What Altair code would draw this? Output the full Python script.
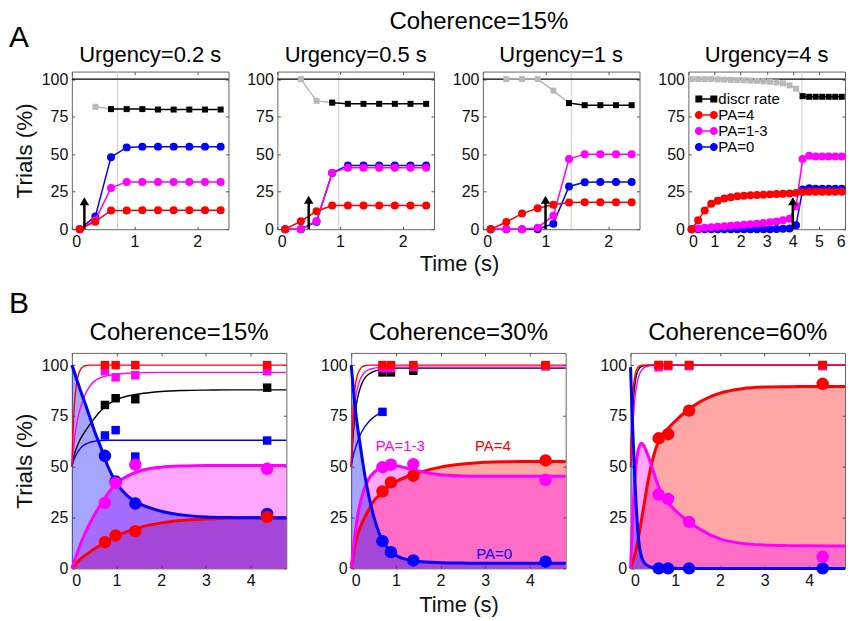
import altair as alt
import pandas as pd

FONT = "Liberation Sans"
RED, MAG, BLUE, BLACK, GRAY = "#ff0000", "#ff00ff", "#0000ff", "#000000", "#b9b9b9"
TICK = "#555555"

# ---------------- Panel A (Coherence = 15%) ----------------
main_title = "Coherence=15%"
urgency = [0.2, 0.5, 1, 4]
urgency_titles = ["Urgency=0.2 s", "Urgency=0.5 s", "Urgency=1 s", "Urgency=4 s"]
decision_time = [0.73, 0.98, 1.41, 4.35]
arrow_top = [22, 23, 23, 22]
a_xmax = [2.5, 2.5, 2.5, 6]
a_xticks = [[0, 1, 2], [0, 1, 2], [0, 1, 2], [0, 1, 2, 3, 4, 5, 6]]
y_ticks = [0, 25, 50, 75, 100]

t_short = [0.125, 0.375, 0.625, 0.875, 1.125, 1.375, 1.625, 1.875, 2.125, 2.375]
t_long = [0.125, 0.375, 0.625, 0.875, 1.125, 1.375, 1.625, 1.875, 2.125, 2.375,
          2.625, 2.875, 3.125, 3.375, 3.625, 3.875, 4.125, 4.375, 4.625, 4.875,
          5.125, 5.375, 5.625, 5.875]

a1_discr = [None, 81.5, 80, 80, 80, 79.7, 79.7, 79.7, 79.7, 79.7]
a1_pa4 = [0, 5, 12.5, 12.5, 12.7, 12.7, 12.7, 12.7, 12.7, 12.7]
a1_pa13 = [0, 6, 27.5, 31.5, 31.5, 31.5, 31.5, 31.5, 31.5, 31.5]
a1_pa0 = [0, 8.5, 48, 54.5, 55, 55, 55, 55, 55, 55]

a2_discr = [None, 100, 85.5, 84.3, 83.5, 83.5, 83.5, 83.5, 83.5, 83.5]
a2_pa4 = [0, 5.3, 12, 15.8, 15.8, 15.8, 15.8, 15.8, 15.8, 15.8]
a2_pa13 = [0, 0, 5.5, 37.5, 41, 41, 41, 41, 41, 41]
a2_pa0 = [0, 0, 5, 37.5, 42.5, 42.5, 42.5, 42.5, 42.5, 42.5]

a3_discr = [None, 100, 100, 100, 92.3, 84, 82.6, 82.6, 82.6, 82.6]
a3_pa4 = [0, 4.8, 10.4, 14, 16.3, 17.8, 18, 18, 18, 18]
a3_pa13 = [0, 0, 0, 1, 9, 46.7, 50, 50, 50, 50]
a3_pa0 = [0, 0, 0, 0, 3.7, 28.5, 31.3, 31.5, 31.5, 31.5]

a4_discr = [100, 100, 100, 100, 99.8, 99.6, 99.5, 99.3, 99.2, 99, 98.8, 98.5,
            98.2, 97.8, 97.2, 95.8, 93.6, 88.6, 88.2, 88.2, 88.2, 88.2, 88.2, 88.2]
a4_pa4 = [0, 6, 12.5, 17, 19, 20.5, 21.3, 22, 22.3, 22.6, 22.8, 23,
          23.2, 23.4, 23.6, 23.8, 24.2, 24.7, 25, 25, 25, 25, 25, 25]
a4_pa13 = [0, 0.5, 1, 1.3, 1.7, 2, 2.3, 2.6, 3, 3.3, 3.7, 4.1,
           4.6, 5.2, 6, 7, 15.4, 46.7, 49, 48.5, 48.5, 48.5, 48.5, 48.5]
a4_pa0 = [0, 0, 0, 0, 0, 0, 0, 0, 0, 0, 0, 0,
          0, 0.2, 0.3, 0.5, 2.6, 26.4, 27.3, 27, 27, 27, 27, 27]

a_time = [t_short, t_short, t_short, t_long]
a_discr = [a1_discr, a2_discr, a3_discr, a4_discr]
a_pa4 = [a1_pa4, a2_pa4, a3_pa4, a4_pa4]
a_pa13 = [a1_pa13, a2_pa13, a3_pa13, a4_pa13]
a_pa0 = [a1_pa0, a2_pa0, a3_pa0, a4_pa0]

legend_names = ["discr rate", "PA=4", "PA=1-3", "PA=0"]

# ---------------- Panel B ----------------
b_titles = ["Coherence=15%", "Coherence=30%", "Coherence=60%"]
b_xticks = [0, 1, 2, 3, 4]
b_rt = [[0.74, 0.98, 1.42, 4.37], [0.7, 0.89, 1.39, 4.35], [0.63, 0.84, 1.31, 4.3]]
b_sq_pa4 = [[100, 100, 100, 100], [100, 100, 100, 100], [100, 100, 100, 100]]
b_sq_pa13 = [[97, 94, 95, 97], [98.5, 98.5, 99, 99.5], [98.9, 99.5, 99.5, 99.5]]
b_sq_discr = [[80.4, 83.7, 83.2, 88.9], [96.4, 96.4, 97.2, 99.5], [100, 100, 100, 100]]
b_sq_pa0 = [[65.4, 68, 55, 62.9], [77, None, None, None], [None, None, None, None]]
b_c_pa4 = [[12.9, 16.2, 18.3, 25.3], [37.9, 42.3, 45.6, 53.1], [64, 66, 77.6, 90.8]]
b_c_pa13 = [[32.2, 42, 51, 49], [49.8, 51, 51.3, 43.6], [36.3, 34.2, 22.9, 5.7]]
b_c_pa0 = [[55.4, 42.8, 31.9, 26.8], [13.4, 8, 3.9, 3.3], [0, 0, 0, 0]]

t_fit = [0, 0.05, 0.1, 0.15, 0.2, 0.25, 0.3, 0.4, 0.5, 0.65, 0.8, 1.0, 1.25, 1.5,
         2.0, 2.5, 3.0, 3.5, 4.0, 4.8]
fit_pa0 = [
    [100, 97, 93.5, 90.3, 87, 84, 81, 74.5, 68, 59.5, 50.5, 42, 35.5, 32, 28.1, 26.2, 25.3, 25, 24.9, 24.8],
    [100, 88, 77, 68.5, 61, 53.5, 46.5, 35, 26, 16, 10.5, 6.5, 4.3, 3.4, 2.8, 2.6, 2.5, 2.5, 2.5, 2.5],
    [99, 68, 42, 23, 10.5, 5.5, 3, 1.2, 0.4, 0, 0, 0, 0, 0, 0, 0, 0, 0, 0, 0],
]
fit_pa13 = [
    [0, 3.2, 6.3, 9.4, 12.3, 15, 17.5, 22, 26.2, 31.5, 36.5, 41.8, 45.5, 47.8, 49.8, 50.4, 50.6, 50.6, 50.6, 50.6],
    [0, 10, 19.5, 26.5, 32, 36.2, 39.5, 44.3, 47, 49.3, 50.3, 50.4, 49.3, 47.9, 46.1, 45.5, 45.3, 45.3, 45.3, 45.3],
    [0, 26, 45, 55.5, 60.2, 61.5, 60.3, 55, 48.5, 39, 33.5, 28.5, 24, 20, 14.5, 12.3, 11.5, 11.2, 11.1, 11],
]
fit_pa4 = [
    [0, 1.3, 2.5, 3.7, 4.8, 5.7, 6.5, 8, 9.5, 11.5, 13.5, 16, 18.2, 20, 22.4, 23.7, 24.3, 24.7, 24.9, 25],
    [0, 7, 13, 17, 20, 22.7, 25, 29.2, 33, 36.5, 39.7, 42.6, 45.2, 47.1, 49.8, 51.3, 52.2, 52.5, 52.6, 52.6],
    [0, 3.5, 7, 12, 18, 24.5, 31, 44, 54, 63.5, 67.8, 72.5, 77.3, 81.2, 86.2, 88.4, 89.2, 89.4, 89.5, 89.5],
]
acc_pa4 = [
    [50, 78, 90, 95.5, 98, 99.2, 99.7, 100, 100, 100, 100, 100, 100, 100, 100, 100, 100, 100, 100, 100],
    [50, 80, 91, 95.8, 98, 99.2, 99.7, 100, 100, 100, 100, 100, 100, 100, 100, 100, 100, 100, 100, 100],
    [50, 84, 95, 98.5, 99.5, 100, 100, 100, 100, 100, 100, 100, 100, 100, 100, 100, 100, 100, 100, 100],
]
acc_pa13 = [
    [50, 62, 70, 75.5, 79.5, 82.7, 85.5, 89.5, 92, 93.8, 94.8, 95.5, 96, 96.2, 96.4, 96.4, 96.4, 96.4, 96.4, 96.4],
    [50, 74, 84, 89.5, 93, 95, 96.5, 97.8, 98.4, 98.8, 99, 99, 99, 99, 99, 99, 99, 99, 99, 99],
    [50, 70, 84, 91.5, 95.5, 97.5, 98.6, 99.5, 99.8, 100, 100, 100, 100, 100, 100, 100, 100, 100, 100, 100],
]
acc_discr = [
    [50, 55.5, 59, 61.7, 64, 65.8, 67.5, 70.7, 73.7, 77.5, 80.5, 83, 84.8, 85.8, 87, 87.5, 87.7, 87.8, 87.8, 87.8],
    [50, 67, 78, 84.5, 88.5, 91.5, 93.5, 95.6, 96.8, 97.8, 98.3, 98.5, 98.5, 98.5, 98.5, 98.5, 98.5, 98.5, 98.5, 98.5],
    [50, 78, 91, 96.5, 98.5, 99.3, 99.7, 100, 100, 100, 100, 100, 100, 100, 100, 100, 100, 100, 100, 100],
]
acc_pa0 = [
    [50, 53.5, 56, 57.8, 59.3, 60.3, 61, 62, 62.5, 62.9, 63, 63, 63, 63, 63, 63, 63, 63, 63, 63],
    [50, 56, 59.5, 62.8, 65.5, 67.7, 69.5, 72.3, 74.3, 76.5, None, None, None, None, None, None, None, None, None, None],
    [None] * 20,
]
b2_labels = ["PA=1-3", "PA=4", "PA=0"]
b2_label_t = [1.1, 3.17, 3.2]
b2_label_v = [60, 60, 7]
b2_label_colors = [MAG, RED, BLUE]

# ---------------- helpers ----------------
def text_layer(s, x, y, size, color=BLACK, align="center", baseline="alphabetic"):
    return alt.Chart(alt.Data(values=[{"s": s}])).mark_text(
        align=align, baseline=baseline, fontSize=size, font=FONT, color=color
    ).encode(x=alt.value(x), y=alt.value(y), text="s:N")


def main_axis(values, **extra):
    # labelled axis, pulled 3px inside the frame so that its ticks point inward
    return alt.Axis(values=values, offset=-3, ticks=True, tickSize=3, tickColor=TICK,
                    tickWidth=1, labelPadding=4, **extra)


def mirror_axis(values, orient):
    return alt.Axis(values=values, orient=orient, offset=-3, ticks=True, tickSize=3,
                    tickColor=TICK, tickWidth=1, labels=False, domain=False, title=None)


SQ_PATH = ("M-0.9,-0.7 H0.5 V0.7 H-0.9 Z M2.1,-0.7 H3.5 V0.7 H2.1 Z "
           "M0.5,-0.15 H2.1 V0.15 H0.5 Z")
CI_PATH = ("M-1,0 A0.8,0.8 0 1,1 0.6,0 A0.8,0.8 0 1,1 -1,0 Z "
           "M2,0 A0.8,0.8 0 1,1 3.6,0 A0.8,0.8 0 1,1 2,0 Z "
           "M0.6,-0.15 H2 V0.15 H0.6 Z")

AW, AH = 157, 158
BW, BH = 215, 216


def make_encoders(xs, ys, xaxis, yaxis, xmirror, ymirror):
    def X(f, mirror=False):
        return alt.X(f"{f}:Q", scale=xs, axis=xmirror if mirror else xaxis)

    def Y(f, mirror=False):
        return alt.Y(f"{f}:Q", scale=ys, axis=ymirror if mirror else yaxis)
    return X, Y


def with_mirror(layers, df, xf, yf, X, Y, w, h):
    inner = alt.layer(*layers)
    ticks_only = alt.Chart(df).mark_point(opacity=0).encode(x=X(xf, True), y=Y(yf, True))
    return alt.layer(inner, ticks_only).resolve_axis(x="independent", y="independent").properties(
        width=w, height=h)


def a_panel(i):
    xs = alt.Scale(domain=[0, a_xmax[i]], nice=False, zero=False)
    ys = alt.Scale(domain=[0, 105], nice=False)
    if i == 1:
        xaxis = main_axis(a_xticks[i], title="Time (s)", titleX=182, titlePadding=4)
    else:
        xaxis = main_axis(a_xticks[i], title=None)
    if i == 0:
        yaxis = main_axis(y_ticks, title="Trials (%)", titlePadding=5, titleFontSize=22.5)
    else:
        yaxis = main_axis(y_ticks, title=None)
    X, Y = make_encoders(xs, ys, xaxis, yaxis, mirror_axis(a_xticks[i], "top"),
                         mirror_axis(y_ticks, "right"))

    t = a_time[i]
    df = pd.DataFrame({"t": t, "discr": a_discr[i], "pa4": a_pa4[i],
                       "pa13": a_pa13[i], "pa0": a_pa0[i]})
    dt = decision_time[i]
    black = df[df["t"] > dt - 0.125]
    first_black = black["t"].min()
    gray = df[(df["t"] <= first_black) & df["discr"].notna()]

    layers = [
        alt.Chart(pd.DataFrame({"d": [dt]})).mark_rule(color="#cccccc", strokeWidth=1).encode(x=X("d")),
        alt.Chart(pd.DataFrame({"v": [100]})).mark_rule(color=BLACK, strokeWidth=1.2).encode(y=Y("v")),
        alt.Chart(gray).mark_line(color=GRAY, strokeWidth=1.5).encode(x=X("t"), y=Y("discr")),
        alt.Chart(gray).mark_square(color=GRAY, size=36, opacity=1).encode(x=X("t"), y=Y("discr")),
        alt.Chart(black).mark_line(color=BLACK, strokeWidth=1.5).encode(x=X("t"), y=Y("discr")),
        alt.Chart(black).mark_square(color=BLACK, size=36, opacity=1).encode(x=X("t"), y=Y("discr")),
    ]
    for col, color in [("pa0", BLUE), ("pa13", MAG), ("pa4", RED)]:
        layers.append(alt.Chart(df).mark_line(color=color, strokeWidth=1.5).encode(x=X("t"), y=Y(col)))
        layers.append(alt.Chart(df).mark_circle(color=color, size=64, opacity=1).encode(x=X("t"), y=Y(col)))
    arrow = pd.DataFrame({"u": [urgency[i]], "y0": [0], "y1": [arrow_top[i] - 4.5],
                          "tip": [arrow_top[i] - 3.4]})
    layers.append(alt.Chart(arrow).mark_rule(color=BLACK, strokeWidth=2.5).encode(
        x=X("u"), y=Y("y0"), y2="y1:Q"))
    layers.append(alt.Chart(arrow).mark_point(shape="triangle-up", filled=True, size=90,
                                              color=BLACK, opacity=1).encode(x=X("u"), y=Y("tip")))
    layers.append(text_layer(urgency_titles[i], AW / 2, -10, 22))
    if i == 0:
        layers.append(text_layer("A", -63, -25, 30, align="left"))
        layers.append(text_layer(main_title, 408, -43, 24))
    if i == 3:
        leg = alt.Legend(orient="none", legendX=4, legendY=20, title=None, labelFont=FONT,
                         labelFontSize=15, labelColor=BLACK, symbolSize=100, symbolOpacity=1,
                         symbolStrokeWidth=0, labelOffset=11, padding=0)
        layers.append(alt.Chart(pd.DataFrame({"name": legend_names})).mark_point(
            filled=True, opacity=0, size=100).encode(
            color=alt.Color("name:N", scale=alt.Scale(domain=legend_names, range=[BLACK, RED, MAG, BLUE]), legend=leg),
            shape=alt.Shape("name:N", scale=alt.Scale(domain=legend_names, range=[SQ_PATH, CI_PATH, CI_PATH, CI_PATH]), legend=leg),
        ))
    return with_mirror(layers, df, "t", "pa4", X, Y, AW, AH)


def b_panel(i):
    xs = alt.Scale(domain=[0, 4.8], nice=False, zero=False)
    ys = alt.Scale(domain=[0, 106], nice=False)
    if i == 1:
        xaxis = main_axis(b_xticks, title="Time (s)", titlePadding=6)
    else:
        xaxis = main_axis(b_xticks, title=None)
    if i == 0:
        yaxis = main_axis(y_ticks, title="Trials (%)", titlePadding=5, titleFontSize=22.5)
    else:
        yaxis = main_axis(y_ticks, title=None)
    X, Y = make_encoders(xs, ys, xaxis, yaxis, mirror_axis(b_xticks, "top"),
                         mirror_axis(y_ticks, "right"))

    fits = pd.DataFrame({"t": t_fit, "f0": fit_pa0[i], "f13": fit_pa13[i], "f4": fit_pa4[i],
                         "a4": acc_pa4[i], "a13": acc_pa13[i], "ad": acc_discr[i],
                         "a0": acc_pa0[i]})
    pts = pd.DataFrame({"t": b_rt[i], "s4": b_sq_pa4[i], "s13": b_sq_pa13[i], "sd": b_sq_discr[i],
                        "s0": b_sq_pa0[i], "c4": b_c_pa4[i], "c13": b_c_pa13[i], "c0": b_c_pa0[i]})
    layers = []
    for col, color in [("f4", RED), ("f13", MAG), ("f0", BLUE)]:
        layers.append(alt.Chart(fits).mark_area(color=color, opacity=0.35, interpolate="monotone").encode(
            x=X("t"), y=Y(col)))
    for col, color in [("a0", BLUE), ("ad", BLACK), ("a13", MAG), ("a4", RED)]:
        sub = fits[["t", col]].dropna()
        if len(sub):
            layers.append(alt.Chart(sub).mark_line(color=color, strokeWidth=1.4, interpolate="monotone").encode(
                x=X("t"), y=Y(col)))
    for col, color in [("s0", BLUE), ("sd", BLACK), ("s13", MAG), ("s4", RED)]:
        sub = pts[["t", col]].dropna()
        if len(sub):
            layers.append(alt.Chart(sub).mark_square(color=color, size=72, opacity=1).encode(
                x=X("t"), y=Y(col)))
    for col, color in [("f4", RED), ("f13", MAG), ("f0", BLUE)]:
        layers.append(alt.Chart(fits).mark_line(color=color, strokeWidth=3, interpolate="monotone").encode(
            x=X("t"), y=Y(col)))
    for col, color in [("c0", BLUE), ("c13", MAG), ("c4", RED)]:
        layers.append(alt.Chart(pts).mark_circle(color=color, size=155, opacity=1).encode(
            x=X("t"), y=Y(col)))
    if i == 1:
        lab = pd.DataFrame({"t": b2_label_t, "v": b2_label_v, "s": b2_labels, "c": b2_label_colors})
        layers.append(alt.Chart(lab).mark_text(fontSize=15, font=FONT, baseline="middle").encode(
            x=X("t"), y=Y("v"), text="s:N", color=alt.Color("c:N", scale=None)))
    layers.append(text_layer(b_titles[i], BW / 2, -13, 24))
    if i == 0:
        layers.append(text_layer("B", -63, -40, 30, align="left"))
    return with_mirror(layers, fits, "t", "f4", X, Y, BW, BH)


row_a = alt.hconcat(*[a_panel(i) for i in range(4)], spacing=49, bounds="flush").resolve_scale(
    color="independent", shape="independent")
row_b = alt.hconcat(*[b_panel(i) for i in range(3)], spacing=65, bounds="flush").resolve_scale(
    color="independent")

chart = alt.vconcat(row_a, row_b, spacing=13).resolve_scale(
    color="independent", shape="independent"
).properties(padding=0).configure(font=FONT).configure_view(
    stroke="#666666", strokeWidth=1
).configure_axis(
    domain=False, ticks=False, grid=False, labelFont=FONT, labelFontSize=16, labelColor="#111111",
    labelPadding=4, titleFont=FONT, titleFontSize=22, titleFontWeight="normal", titleColor="#111111"
).configure_legend(rowPadding=-3)

chart.save("out.html", embed_options={"renderer": "svg", "actions": False})
